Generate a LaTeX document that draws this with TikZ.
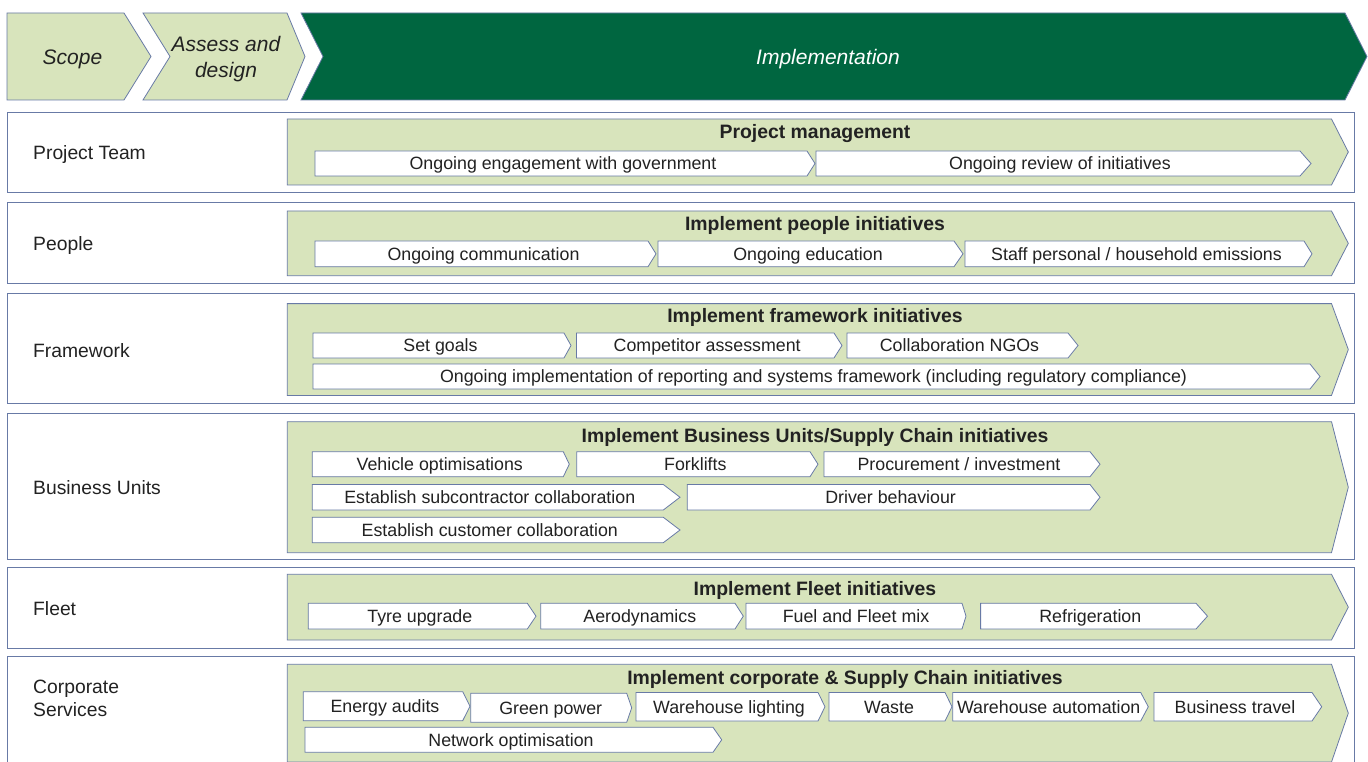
\documentclass[tikz,border=0pt]{standalone}
\usepackage{fontspec}
\setmainfont{Liberation Sans}
\definecolor{linecol}{RGB}{104,122,166}
\definecolor{lgreen}{RGB}{216,228,188}
\definecolor{dgreen}{RGB}{0,102,64}
\definecolor{txt}{RGB}{34,34,34}
\tikzset{
  outerbox/.style={draw=linecol, line width=0.9pt, fill=white},
  grnbox/.style={draw=linecol, line width=0.8pt, fill=lgreen},
  itembox/.style={draw=linecol, line width=0.8pt, fill=white, line join=miter},
  phasebox/.style={draw=linecol, line width=0.8pt, fill=lgreen},
  phasedark/.style={draw=linecol, line width=0.8pt, fill=dgreen},
  itemtext/.style={font=\fontsize{17.8}{21}\selectfont, text=txt, inner sep=0pt, anchor=base},
  titletext/.style={font=\fontsize{19.4}{23}\selectfont\bfseries, text=txt, inner sep=0pt, anchor=base},
  labeltext/.style={font=\fontsize{19.3}{23}\selectfont, text=txt, inner sep=0pt, anchor=base west},
  phasetext/.style={font=\fontsize{21}{26}\selectfont\itshape, text=txt, inner sep=0pt},
}
% item: x-left, x-flat, x-tip, y-top, y-bottom, name, text
\newcommand\itm[7]{%
  \draw[itembox] (#1,#4) -- (#2,#4) -- (#3,{(#4+#5)/2}) -- (#2,#5) -- (#1,#5) -- cycle;
  \node[itemtext] (#6) at ({(#1+#2)/2+2},{(#4+#5)/2+6.4}) {#7};}
% green band: y-top, y-bottom
\newcommand\grn[2]{%
  \draw[grnbox] (287.3,#1) -- (1331.5,#1) -- (1348.3,{(#1+#2)/2}) -- (1331.5,#2) -- (287.3,#2) -- cycle;}
\begin{document}
\begin{tikzpicture}[x=1pt,y=-1pt]
\clip (0,0) rectangle (1368,762);
\fill[white] (0,0) rectangle (1368,762);

% ---- phases ----
\draw[phasebox] (7,13) -- (124,13) -- (151,56.5) -- (124,100) -- (7,100) -- cycle;
\draw[phasebox] (143,13) -- (287,13) -- (305,56.5) -- (287,100) -- (143,100) -- (170,56.5) -- cycle;
\draw[phasedark] (301,13) -- (1345,13) -- (1367,56.5) -- (1345,100) -- (301,100) -- (323,56.5) -- cycle;
\node[phasetext, anchor=base] (scope) at (72.5,64.5) {Scope};
\node[phasetext, align=center] (assess) at (226,59.5) {Assess and\\design};
\node[phasetext, anchor=base, text=white] (impl) at (828,64.5) {Implementation};

% ---- Project Team ----
\draw[outerbox] (7,112.3) rectangle (1354,192.3);
\node[labeltext] (lpt) at (33,160) {Project Team};
\grn{119}{185}
\node[titletext] (tpt) at (815,139) {Project management};
\itm{315}{807}{815}{151}{176}{pt1}{Ongoing engagement with government}
\itm{816}{1300}{1311}{151}{176}{pt2}{Ongoing review of initiatives}

% ---- People ----
\draw[outerbox] (7,202.7) rectangle (1354,283.3);
\node[labeltext] (lpe) at (33,251) {People};
\grn{211}{275.7}
\node[titletext] (tpe) at (815,230) {Implement people initiatives};
\itm{315}{648}{656}{241}{266.7}{pe1}{Ongoing communication}
\itm{658}{954}{963}{241}{266.7}{pe2}{Ongoing education}
\itm{965}{1304}{1312}{241}{266.7}{pe3}{Staff personal / household emissions}

% ---- Framework ----
\draw[outerbox] (7,293) rectangle (1354,403.6);
\node[labeltext] (lfw) at (33,357) {Framework};
\grn{303.6}{395.4}
\node[titletext] (tfw) at (815,322) {Implement framework initiatives};
\itm{313}{564}{571}{333}{358}{fw1}{Set goals}
\itm{576.4}{834}{842}{333}{358}{fw2}{Competitor assessment}
\itm{847}{1068}{1078}{333}{358}{fw3}{Collaboration NGOs}
\itm{313}{1310}{1320}{364}{389}{fw4}{Ongoing implementation of reporting and systems framework (including regulatory compliance)}

% ---- Business Units ----
\draw[outerbox] (7,413.3) rectangle (1354,559.3);
\node[labeltext] (lbu) at (33,494) {Business Units};
\grn{421.7}{552.7}
\node[titletext] (tbu) at (815,442) {Implement Business Units/Supply Chain initiatives};
\itm{312.3}{563.3}{569.3}{451.7}{476.7}{bu1}{Vehicle optimisations}
\itm{576.7}{810}{818}{451.7}{476.7}{bu2}{Forklifts}
\itm{824}{1090}{1100}{451.7}{476.7}{bu3}{Procurement / investment}
\itm{312.3}{663.3}{680}{484.5}{510}{bu4}{Establish subcontractor collaboration}
\itm{687.3}{1090}{1100}{484.5}{510}{bu5}{Driver behaviour}
\itm{312.3}{663.3}{680}{517.3}{542.7}{bu6}{Establish customer collaboration}

% ---- Fleet ----
\draw[outerbox] (7,567.3) rectangle (1354,648.3);
\node[labeltext] (lfl) at (33,615) {Fleet};
\grn{574.3}{640}
\node[titletext] (tfl) at (815,595) {Implement Fleet initiatives};
\itm{308.3}{527.3}{536}{603.3}{629}{fl1}{Tyre upgrade}
\itm{540.7}{735}{743.3}{603.3}{629}{fl2}{Aerodynamics}
\itm{746}{962}{966}{603.3}{629}{fl3}{Fuel and Fleet mix}
\itm{980.6}{1196}{1207.5}{603.3}{629}{fl4}{Refrigeration}

% ---- Corporate Services ----
\draw[outerbox] (7,656) rectangle (1354,800);
\node[labeltext, anchor=west, align=left] (lcs) at (33,698.5) {Corporate\\Services};
\grn{664.3}{762}
\node[titletext] (tcs) at (845,684) {Implement corporate \& Supply Chain initiatives};
\itm{303.3}{462.7}{470}{691.7}{720.7}{cs1}{Energy audits}
\itm{470.7}{626.7}{631.7}{693.3}{722.3}{cs2}{Green power}
\itm{636}{818}{825}{692.5}{721}{cs3}{Warehouse lighting}
\itm{829}{945}{952}{692.5}{721}{cs4}{Waste}
\itm{952.7}{1140.7}{1148.3}{692.5}{721}{cs5}{Warehouse automation}
\itm{1154}{1312}{1321.7}{692.5}{721}{cs6}{Business travel}
\itm{305}{713}{721.7}{727.3}{752.3}{cs7}{Network optimisation}
\end{tikzpicture}
\end{document}
